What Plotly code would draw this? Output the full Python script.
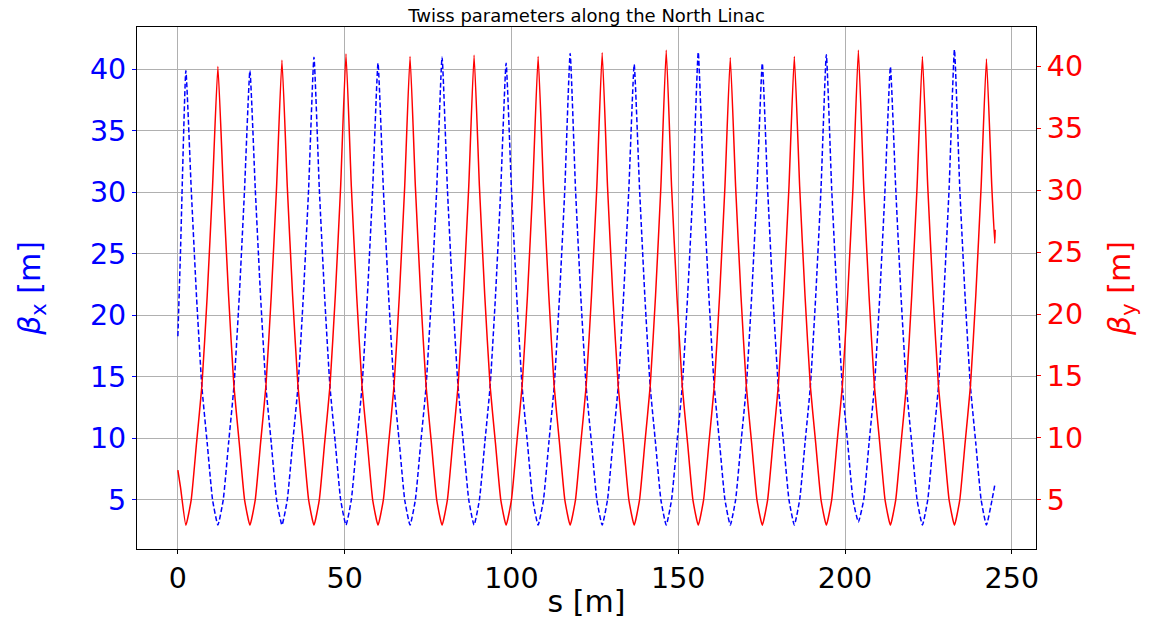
import plotly.graph_objects as go

# longitudinal position s [m]
s = [0.0, 0.8,
     2.4, 4.0, 5.6, 7.2, 8.8, 10.4,
     12.0, 13.6, 15.2, 16.8, 18.4, 20.0,
     21.6, 23.2, 24.8, 26.4, 28.0, 29.6,
     31.2, 32.8, 34.4, 36.0, 37.6, 39.2,
     40.8, 42.4, 44.0, 45.6, 47.2, 48.8,
     50.4, 52.0, 53.6, 55.2, 56.8, 58.4,
     60.0, 61.6, 63.2, 64.8, 66.4, 68.0,
     69.6, 71.2, 72.8, 74.4, 76.0, 77.6,
     79.2, 80.8, 82.4, 84.0, 85.6, 87.2,
     88.8, 90.4, 92.0, 93.6, 95.2, 96.8,
     98.4, 100.0, 101.6, 103.2, 104.8, 106.4,
     108.0, 109.6, 111.2, 112.8, 114.4, 116.0,
     117.6, 119.2, 120.8, 122.4, 124.0, 125.6,
     127.2, 128.8, 130.4, 132.0, 133.6, 135.2,
     136.8, 138.4, 140.0, 141.6, 143.2, 144.8,
     146.4, 148.0, 149.6, 151.2, 152.8, 154.4,
     156.0, 157.6, 159.2, 160.8, 162.4, 164.0,
     165.6, 167.2, 168.8, 170.4, 172.0, 173.6,
     175.2, 176.8, 178.4, 180.0, 181.6, 183.2,
     184.8, 186.4, 188.0, 189.6, 191.2, 192.8,
     194.4, 196.0, 197.6, 199.2, 200.8, 202.4,
     204.0, 205.6, 207.2, 208.8, 210.4, 212.0,
     213.6, 215.2, 216.8, 218.4, 220.0, 221.6,
     223.2, 224.8, 226.4, 228.0, 229.6, 231.2,
     232.8, 234.4, 236.0, 237.6, 239.2, 240.8,
     242.4, 244.0, 244.9, 245.0]

# horizontal beta function [m]
beta_x = [18.3, 25.3,
          39.9, 30.3, 21.5, 14.2, 9.6, 5.0,
          2.95, 5.0, 9.6, 14.2, 21.5, 30.3,
          39.9, 30.3, 21.5, 14.2, 9.6, 5.0,
          2.95, 5.0, 9.6, 14.2, 21.5, 30.3,
          41.0, 30.3, 21.5, 14.2, 9.6, 5.0,
          2.95, 5.0, 9.6, 14.2, 21.5, 30.3,
          40.5, 30.3, 21.5, 14.2, 9.6, 5.0,
          2.95, 5.0, 9.6, 14.2, 21.5, 30.3,
          41.0, 30.3, 21.5, 14.2, 9.6, 5.0,
          2.95, 5.0, 9.6, 14.2, 21.5, 30.3,
          40.5, 30.3, 21.5, 14.2, 9.6, 5.0,
          2.95, 5.0, 9.6, 14.2, 21.5, 30.3,
          41.3, 30.3, 21.5, 14.2, 9.6, 5.0,
          2.95, 5.0, 9.6, 14.2, 21.5, 30.3,
          40.4, 30.3, 21.5, 14.2, 9.6, 5.0,
          2.95, 5.0, 9.6, 14.2, 21.5, 30.3,
          41.4, 30.3, 21.5, 14.2, 9.6, 5.0,
          2.95, 5.0, 9.6, 14.2, 21.5, 30.3,
          40.5, 30.3, 21.5, 14.2, 9.6, 5.0,
          2.95, 5.0, 9.6, 14.2, 21.5, 30.3,
          41.2, 30.3, 21.5, 14.2, 9.6, 5.0,
          3.2, 5.0, 9.6, 14.2, 21.5, 30.3,
          40.2, 30.3, 21.5, 14.2, 9.6, 5.0,
          2.95, 5.0, 9.6, 14.2, 21.5, 30.3,
          41.6, 30.3, 21.5, 14.2, 9.6, 5.0,
          2.95, 4.9, 6.2, 6.3]

# vertical beta function [m]
beta_y = [7.4, 6.0,
          2.95, 5.0, 9.6, 14.2, 21.5, 30.3,
          40.0, 30.3, 21.5, 14.2, 9.6, 5.0,
          2.95, 5.0, 9.6, 14.2, 21.5, 30.3,
          40.5, 30.3, 21.5, 14.2, 9.6, 5.0,
          2.95, 5.0, 9.6, 14.2, 21.5, 30.3,
          41.0, 30.3, 21.5, 14.2, 9.6, 5.0,
          2.95, 5.0, 9.6, 14.2, 21.5, 30.3,
          40.8, 30.3, 21.5, 14.2, 9.6, 5.0,
          2.95, 5.0, 9.6, 14.2, 21.5, 30.3,
          40.9, 30.3, 21.5, 14.2, 9.6, 5.0,
          2.95, 5.0, 9.6, 14.2, 21.5, 30.3,
          40.8, 30.3, 21.5, 14.2, 9.6, 5.0,
          2.95, 5.0, 9.6, 14.2, 21.5, 30.3,
          41.1, 30.3, 21.5, 14.2, 9.6, 5.0,
          2.95, 5.0, 9.6, 14.2, 21.5, 30.3,
          41.3, 30.3, 21.5, 14.2, 9.6, 5.0,
          2.95, 5.0, 9.6, 14.2, 21.5, 30.3,
          40.7, 30.3, 21.5, 14.2, 9.6, 5.0,
          2.95, 5.0, 9.6, 14.2, 21.5, 30.3,
          40.8, 30.3, 21.5, 14.2, 9.6, 5.0,
          2.95, 5.0, 9.6, 14.2, 21.5, 30.3,
          41.3, 30.3, 21.5, 14.2, 9.6, 5.0,
          2.95, 5.0, 9.6, 14.2, 21.5, 30.3,
          40.8, 30.3, 21.5, 14.2, 9.6, 5.0,
          2.95, 5.0, 9.6, 14.2, 21.5, 30.3,
          40.6, 30.3, 25.7, 26.8]

x_ticks = [0, 50, 100, 150, 200, 250]
y_ticks = [5, 10, 15, 20, 25, 30, 35, 40]

FONT = "DejaVu Sans"
# the page places the figure 8 px from the top-left corner of the window
W, H = 1145, 611

fig = go.Figure()
fig.add_trace(go.Scatter(x=s, y=beta_x, mode="lines", yaxis="y",
                         line=dict(color="#0000ff", width=1.5, dash="5px,2.5px",
                                   shape="spline", smoothing=0.45),
                         showlegend=False))
fig.add_trace(go.Scatter(x=s, y=beta_y, mode="lines", yaxis="y2",
                         line=dict(color="#ff0000", width=1.5,
                                   shape="spline", smoothing=0.45),
                         showlegend=False))

fig.update_layout(
    width=W, height=H,
    margin=dict(l=129, r=117, t=19, b=70),
    paper_bgcolor="white", plot_bgcolor="white",
    font=dict(family=FONT, color="black"),
    title=dict(text="Twiss parameters along the North Linac",
               font=dict(family=FONT, size=18, color="black"),
               x=0.5, xref="paper", xanchor="center",
               y=1 - 8 / H, yref="container", yanchor="middle"),
    xaxis=dict(range=[-12.25, 257.25], tickvals=x_ticks,
               tickfont=dict(size=28.5, color="black"),
               ticks="outside", ticklen=4, tickcolor="black",
               showgrid=True, gridcolor="#b0b0b0", gridwidth=1,
               showline=True, linecolor="black", linewidth=1.2, mirror=True,
               zeroline=False, automargin=False,
               title=dict(text="s [m]", font=dict(size=30, color="black"), standoff=2)),
    yaxis=dict(range=[1.0, 43.45], tickvals=y_ticks,
               tickfont=dict(size=28.5, color="#0000ff"),
               ticks="outside", ticklen=4, tickcolor="#0000ff",
               showgrid=True, gridcolor="#b0b0b0", gridwidth=1,
               showline=True, linecolor="black", linewidth=1.2,
               zeroline=False, automargin=False,
               title=dict(text="<i>β</i><sub>x</sub> [m]",
                          font=dict(size=30, color="#0000ff"), standoff=40)),
    yaxis2=dict(range=[1.03, 43.18], tickvals=y_ticks, overlaying="y", side="right",
                tickfont=dict(size=28.5, color="#ff0000"),
                ticks="outside", ticklen=4, tickcolor="#ff0000",
                showgrid=False,
                showline=True, linecolor="black", linewidth=1.2,
                zeroline=False, automargin=False,
                title=dict(text="<i>β</i><sub>y</sub> [m]",
                           font=dict(size=30, color="#ff0000"), standoff=26)),
)

fig.write_html("out.html")
